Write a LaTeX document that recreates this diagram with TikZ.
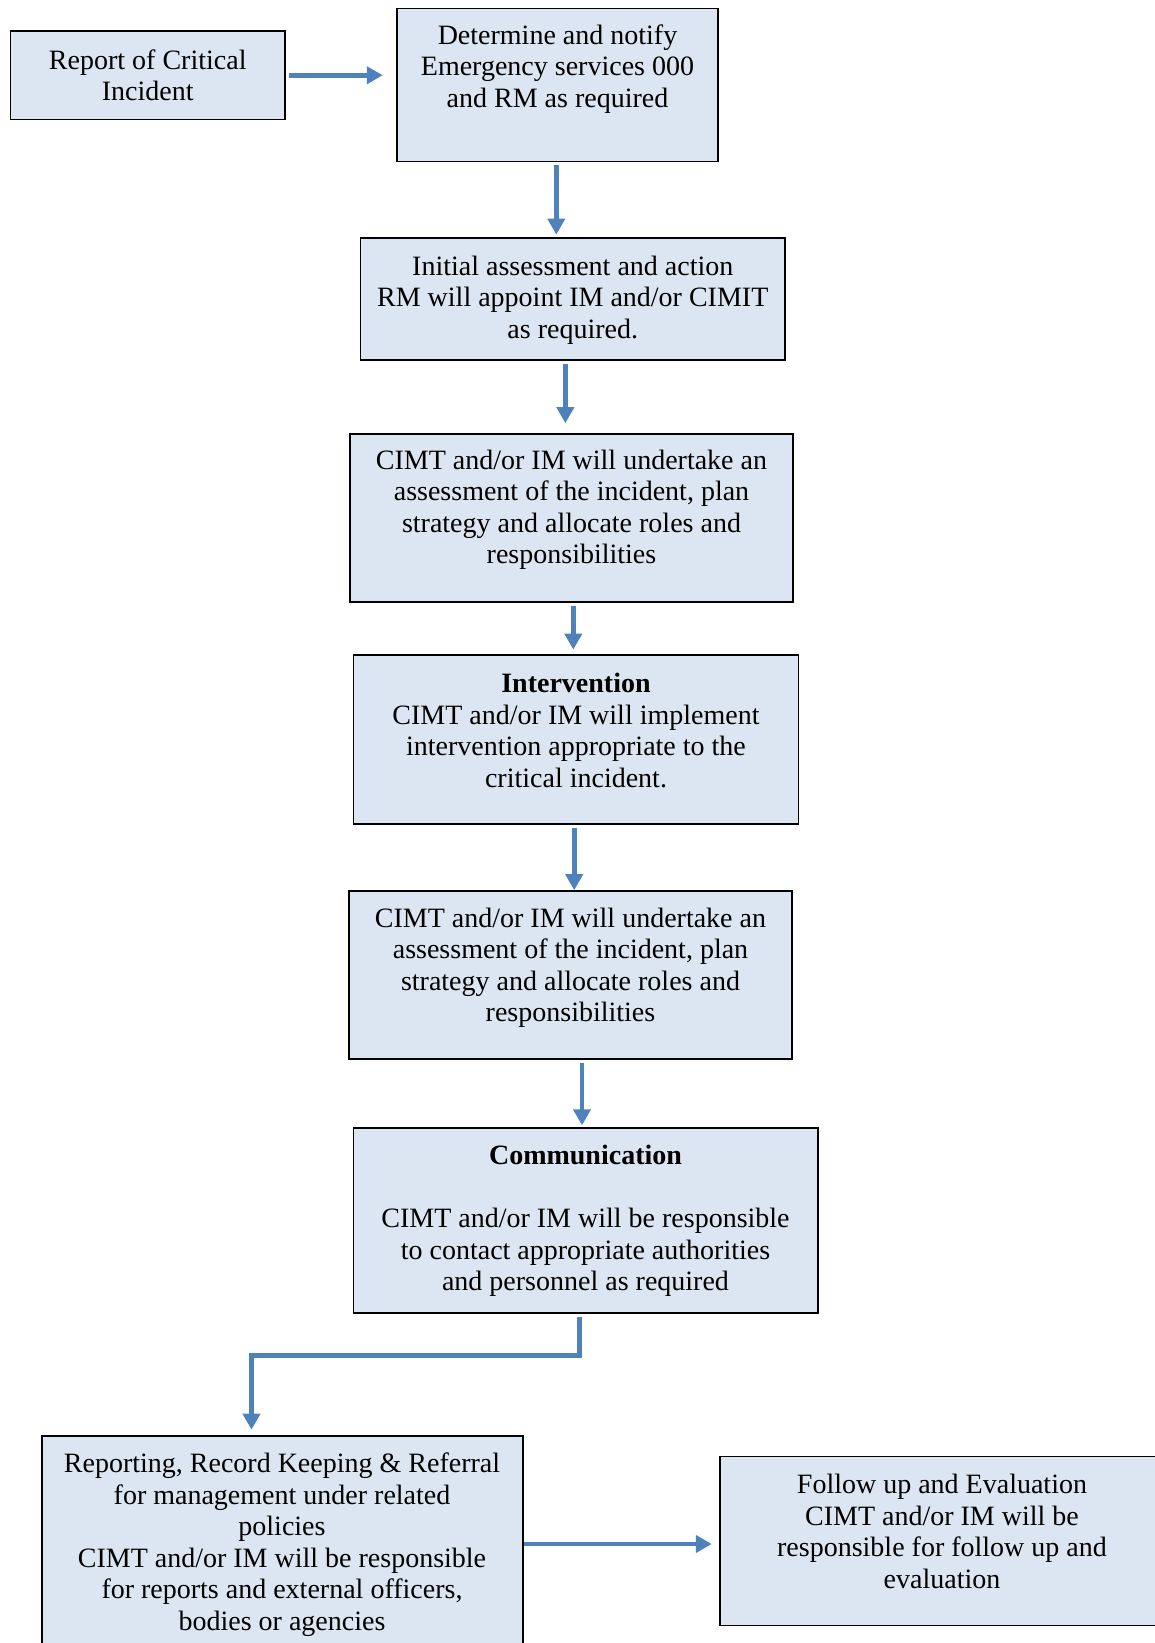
\documentclass[tikz,border=0pt]{standalone}
\usepackage{fontspec}
\setmainfont{Liberation Serif}
\usetikzlibrary{arrows.meta,calc}
\definecolor{boxfill}{RGB}{220,230,242}
\definecolor{arrowblue}{RGB}{79,129,189}
\newcommand\boxfont{\fontsize{14}{15.75}\selectfont}
\tikzset{
    box/.style={draw=black, line width=0.8pt, fill=boxfill, inner sep=0pt},
    txt/.style={align=center, inner sep=0pt, font=\boxfont},
    flow/.style={draw=arrowblue, line width=2.4pt, -{Triangle[length=8pt,width=8.5pt]}, shorten <=1.5pt},
}
\begin{document}
\begin{tikzpicture}[x=0.5pt,y=-0.5pt]
                \useasboundingbox (0,0) rectangle (1155,1643);
                \clip (0,0) rectangle (1155,1643);
                % boxes
                \node[box, minimum width=137.25pt, minimum height=44.25pt] (report) at (147.75,75.25) {};
                \node[box, minimum width=160.5pt, minimum height=76.5pt] (notify) at (557.5,85) {};
                \node[box, minimum width=212.25pt, minimum height=61pt] (assess) at (572.75,299) {};
                \node[box, minimum width=221.5pt, minimum height=84pt] (plan) at (571.5,518) {};
                \node[box, minimum width=222.5pt, minimum height=84.5pt] (interv) at (576,739.5) {};
                \node[box, minimum width=221.5pt, minimum height=84pt] (plan2) at (570.5,975) {};
                \node[box, minimum width=232.2pt, minimum height=92.5pt] (comm) at (585.5,1220.2) {};
                \node[box, minimum width=240.5pt, minimum height=132pt] (record) at (282.5,1568) {};
                \node[box, minimum width=222pt, minimum height=84.4pt] (follow) at (942,1541) {};
                % texts
                \node[txt] (report-t) at (147.75,75.5) {Report of Critical\\Incident};
                \node[txt] (notify-t) at (557.5,69) {Determine and notify\\Emergency services 000\\and RM as required};
                \node[txt] (assess-t) at (572.75,300) {Initial assessment and action\\RM will appoint IM and/or CIMIT\\as required.};
                \node[txt] (plan-t) at (571.5,510) {CIMT and/or IM will undertake an\\assessment of the incident, plan\\strategy and allocate roles and\\responsibilities};
                \node[txt] (interv-t) at (576,730.5) {\textbf{Intervention}\\CIMT and/or IM will implement\\intervention appropriate to the\\critical incident.};
                \node[txt] (plan2-t) at (570.5,968) {CIMT and/or IM will undertake an\\assessment of the incident, plan\\strategy and allocate roles and\\responsibilities};
                \node[txt] (comm-t) at (585.5,1221) {\textbf{Communication}\\[15.75pt]CIMT and/or IM will be responsible\\to contact appropriate authorities\\and personnel as required};
                \node[txt] (record-t) at (282,1544.5) {Reporting, Record Keeping \& Referral\\for management under related\\policies\\CIMT and/or IM will be responsible\\for reports and external officers,\\bodies or agencies};
                \node[txt] (follow-t) at (942,1531.5) {Follow up and Evaluation\\CIMT and/or IM will be\\responsible for follow up and\\evaluation};
                % arrows
                \draw[flow, shorten >=6.7pt] (report.east) -- (report.east -| notify.west);
                \draw[flow, shorten >=1.3pt] ([xshift=-0.6pt]notify.south) -- ([xshift=-0.6pt]notify.south |- assess.north);
                \draw[flow, shorten >=5pt] ([xshift=-3.7pt]assess.south) -- ([xshift=-3.7pt]assess.south |- plan.north);
                \draw[flow, shorten >=2.3pt] ([xshift=0.9pt]plan.south) -- ([xshift=0.9pt]plan.south |- interv.north);
                \draw[flow, shorten >=0pt] ([xshift=-0.9pt]interv.south) -- ([xshift=-0.9pt]interv.south |- plan2.north);
                \draw[flow, shorten >=0.8pt] ([xshift=5.75pt]plan2.south) -- ([xshift=5.75pt]plan2.south |- comm.north);
                \draw[flow, shorten >=2.75pt] ([xshift=-3pt]comm.south) -- ++(0,42) -| ([xshift=-15.5pt]record.north);
                \draw[flow, shorten <=0pt, shorten >=3.7pt] ([yshift=-1.5pt]follow.west -| record.east) -- ([yshift=-1.5pt]follow.west);
            \end{tikzpicture}
\end{document}
